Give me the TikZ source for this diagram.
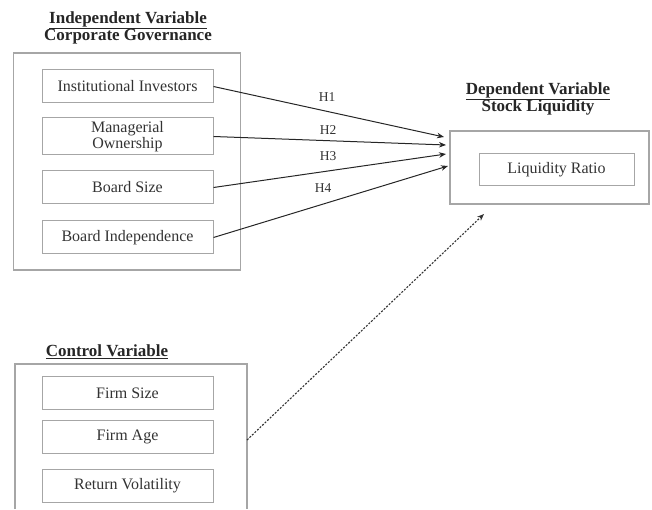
\documentclass[tikz,border=0pt]{standalone}
\usepackage{fontspec}
\setmainfont{Liberation Serif}
\usetikzlibrary{arrows.meta,calc}
\begin{document}
\begin{tikzpicture}[x=1pt,y=-1pt,
  outerbox/.style={draw=black!35,line width=1.3pt,inner sep=0pt},
  innerbox/.style={draw=black!35,line width=1pt,minimum width=171pt,minimum height=33pt,inner sep=0pt,align=center,
     font=\fontsize{16}{16}\selectfont,text=black!80},
  ttl/.style={font=\bfseries\fontsize{17}{17}\selectfont,text=black!85,inner sep=0pt},
  hlab/.style={font=\fontsize{13.5}{15}\selectfont,text=black!80,inner sep=0pt},
  conn/.style={draw=black!85,line width=1pt,-{Stealth[length=7pt,width=5.5pt]}},
  dconn/.style={draw=black!80,line width=1.1pt,dash pattern=on 2pt off 1.5pt,-{Stealth[length=7pt,width=5.5pt]}}]
\useasboundingbox (0,0) rectangle (652,510);
% titles
\node[ttl] (t1) at (128,20) {\underline{Independent Variable}};
\node[ttl] (t2) at (128,37) {Corporate Governance};
\node[ttl] (t3) at (538,91) {\underline{Dependent Variable}};
\node[ttl] (t4) at (538,107) {Stock Liquidity};
\node[ttl] (t5) at (107,352) {\underline{Control Variable}};
% outer boxes
\node[outerbox,minimum width=227pt,minimum height=217pt] (iv) at (127,161.5) {};
\node[outerbox,minimum width=199pt,minimum height=73pt] (dv) at (549.5,167.5) {};
\draw[draw=black!35,line width=1.3pt] (15,509) -- (15,364) -- (247,364) -- (247,509);
\coordinate (cv) at (247,440);
% inner boxes
\node[innerbox] (ii) at (127.5,86.5) {Institutional Investors};
\node[innerbox,minimum height=37pt] (mo) at (127.5,136.5) {Managerial\\Ownership};
\node[innerbox] (bs) at (127.5,187.5) {Board Size};
\node[innerbox] (bi) at (127.5,237.5) {Board Independence};
\node[innerbox,minimum width=155pt,minimum height=32pt] (lr) at (556.5,170) {Liquidity Ratio};
\node[innerbox] (fs) at (127.5,393) {Firm Size};
\node[innerbox] (fa) at (127.5,437) {Firm Age};
\node[innerbox] (rv) at (127.5,486) {Return Volatility};
% arrow ends
\coordinate (e1) at (444,137);
\coordinate (e2) at (446,145);
\coordinate (e3) at (446,154);
\coordinate (e4) at (448,166);
\coordinate (e5) at (484,214);
\draw[conn] (ii.east) -- (e1);
\draw[conn] (mo.east) -- (e2);
\draw[conn] (bs.east) -- (e3);
\draw[conn] (bi.east) -- (e4);
\draw[dconn] (cv) -- (e5);
% labels
\node[hlab] (h1) at (327,97) {H1};
\node[hlab] (h2) at (328,130) {H2};
\node[hlab] (h3) at (328,156) {H3};
\node[hlab] (h4) at (323,188) {H4};
\end{tikzpicture}
\end{document}
